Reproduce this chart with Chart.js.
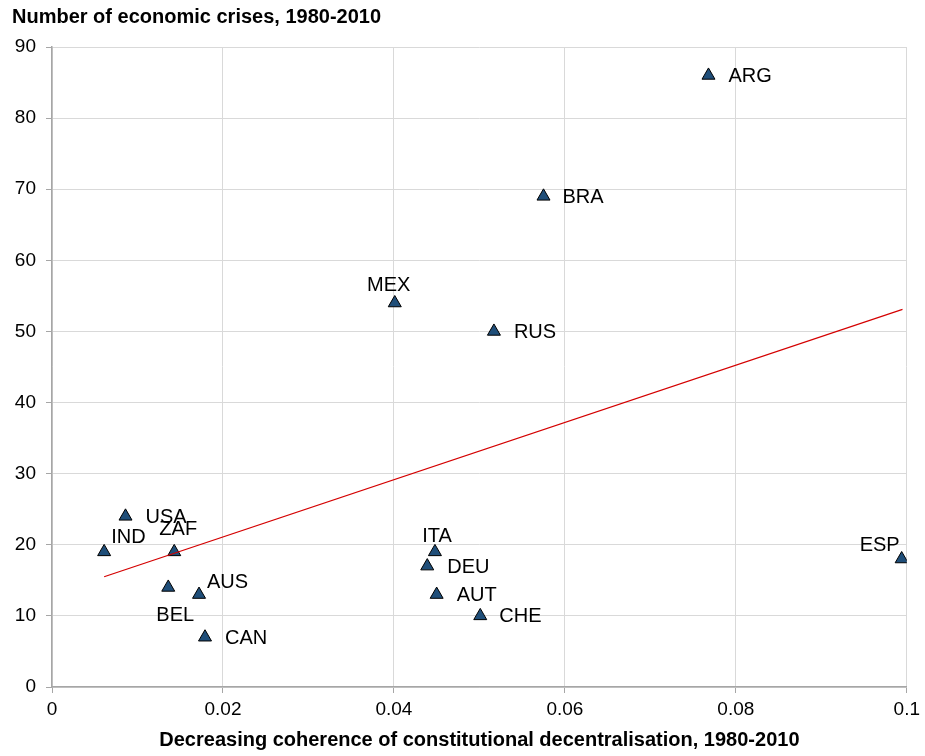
<!DOCTYPE html>
<html>
<head>
<meta charset="utf-8">
<script src="https://cdn.jsdelivr.net/npm/chart.js@4.4.1/dist/chart.umd.min.js"></script>
<style>
html,body{margin:0;padding:0;background:#fff;}
#wrap{width:925px;height:756px;position:relative;}
</style>
</head>
<body>
<div id="wrap"><canvas id="c"></canvas></div>
<script>
// ---- data ----
const countries = ["ARG","BRA","MEX","RUS","USA","IND","ZAF","BEL","AUS","CAN","ITA","DEU","AUT","CHE","ESP"];
const coherence = [0.0768,0.0575,0.0401,0.0517,0.0086,0.0061,0.0143,0.0136,0.0172,0.0179,0.0448,0.0439,0.0450,0.0501,0.0994];
const crises    = [86,69,54,50,24,19,19,14,13,7,19,17,13,10,18];
const trendX = [0.0061, 0.0995];
const trendY = [15.5, 53.1];
const xTicks = [0,0.02,0.04,0.06,0.08,0.1];
const yTicks = [0,10,20,30,40,50,60,70,80,90];
const yTitle = "Number of economic crises, 1980-2010";
const xTitle = "Decreasing coherence of constitutional decentralisation, 1980-2010";

// label placement (style only): [dx, dy, align]
const labelPlace = {
  ARG:[20,1,"left"], BRA:[19,1,"left"], MEX:[-6,-18,"center"], RUS:[20,1,"left"],
  USA:[20,1,"left"], IND:[7,-14,"left"], ZAF:[4,-22,"center"], BEL:[7,28,"center"],
  AUS:[8,-12,"left"], CAN:[20,1,"left"], ITA:[2,-15,"center"], DEU:[20,1,"left"],
  AUT:[20,1,"left"], CHE:[19,1,"left"], ESP:[-22,-14,"center"]
};

const points = coherence.map((x,i)=>({x:x,y:crises[i]}));
const trend = trendX.map((x,i)=>({x:x,y:trendY[i]}));

const labelPlugin = {
  id:'ptLabels',
  afterDatasetsDraw(chart){
    const meta = chart.getDatasetMeta(1);
    const ctx = chart.ctx;
    ctx.save();
    ctx.font = '20px "Liberation Sans", Arial, sans-serif';
    ctx.fillStyle = '#000';
    ctx.textBaseline = 'middle';
    meta.data.forEach((el,i)=>{
      const name = countries[i];
      const p = labelPlace[name] || [18,0,"left"];
      ctx.textAlign = p[2];
      ctx.fillText(name, el.x + p[0], el.y + p[1]);
    });
    ctx.restore();
  }
};

new Chart(document.getElementById('c'), {
  type:'scatter',
  data:{
    datasets:[
      {
        type:'line',
        data:trend,
        borderColor:'#d40000',
        borderWidth:1.2,
        pointRadius:0,
        fill:false,
        order:0
      },
      {
        data:points,
        pointStyle:'triangle',
        pointRadius:7.5,
        pointHoverRadius:7.5,
        backgroundColor:'#1f4e79',
        borderColor:'#000',
        borderWidth:1,
        order:1
      }
    ]
  },
  options:{
    responsive:true,
    maintainAspectRatio:false,
    animation:false,
    devicePixelRatio:1,
    layout:{padding:{left:12,right:17,top:0,bottom:0}},
    plugins:{
      legend:{display:false},
      tooltip:{enabled:false},
      title:{
        display:true,
        text:yTitle,
        align:'start',
        color:'#000',
        font:{family:'"Liberation Sans", Arial, sans-serif',size:20,weight:'bold',lineHeight:1.2},
        padding:{top:5,bottom:18}
      }
    },
    scales:{
      x:{
        type:'linear',
        min:0,max:0.1,
        afterBuildTicks(s){ s.ticks = xTicks.map(v=>({value:v})); },
        afterFit(s){ s.height = 69; },
        ticks:{
          color:'#000',
          font:{family:'"Liberation Sans", Arial, sans-serif',size:19},
          padding:5,
          maxRotation:0,
          callback:(v)=>String(v)
        },
        grid:{color:'#d9d9d9',lineWidth:1,tickColor:'#a6a6a6',tickLength:6},
        border:{color:'#a6a6a6',width:1.5},
        title:{
          display:true,
          text:xTitle,
          color:'#000',
          font:{family:'"Liberation Sans", Arial, sans-serif',size:20,weight:'bold',lineHeight:1.2},
          padding:{top:0,bottom:4}
        }
      },
      y:{
        type:'linear',
        min:0,max:90,
        afterBuildTicks(s){ s.ticks = yTicks.map(v=>({value:v})); },
        afterFit(s){ s.width = 40; },
        ticks:{
          color:'#000',
          font:{family:'"Liberation Sans", Arial, sans-serif',size:19},
          padding:10
        },
        grid:{color:'#d9d9d9',lineWidth:1,tickColor:'#a6a6a6',tickLength:6},
        border:{color:'#a6a6a6',width:1.5}
      }
    }
  },
  plugins:[labelPlugin]
});
</script>
</body>
</html>
